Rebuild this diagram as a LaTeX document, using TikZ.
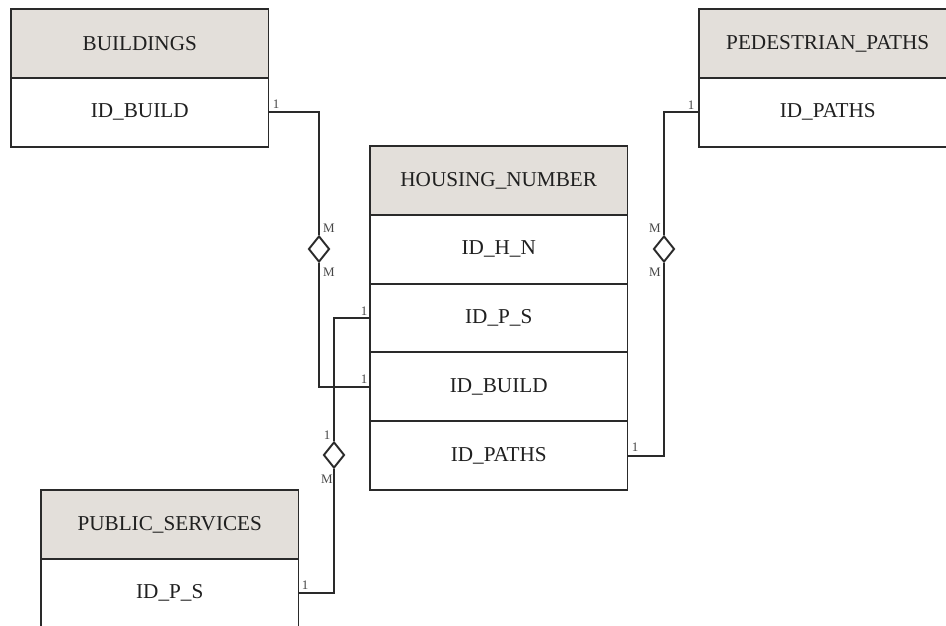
\documentclass[tikz,border=0pt]{standalone}
\usepackage{fontspec}
\setmainfont{Liberation Serif}
\usetikzlibrary{shapes.geometric}
\definecolor{hdrfill}{RGB}{227,223,218}
\definecolor{ink}{RGB}{42,42,42}
\definecolor{txt}{RGB}{32,32,32}
\definecolor{cardtxt}{RGB}{70,70,70}
\begin{document}
\begin{tikzpicture}[x=1pt,y=-1pt,
  cell/.style={draw=ink, line width=1.9pt, minimum width=257.5pt, minimum height=68.8pt,
    inner sep=0pt, text=txt, font=\fontsize{21.2}{24}\selectfont},
  hdr/.style={cell, fill=hdrfill},
  rowcell/.style={cell, fill=white},
  link/.style={draw=ink, line width=1.9pt},
  rel/.style={diamond, draw=ink, line width=1.9pt, fill=white,
    minimum width=21pt, minimum height=26pt, inner sep=0pt},
  card/.style={text=cardtxt, font=\fontsize{13}{14}\selectfont, inner sep=0pt}]
\useasboundingbox (0,0) rectangle (946,626);
\clip (0,0) rectangle (946,626);

% tables
\node[hdr]     (bh)  at (139.75,43.4)  {BUILDINGS};
\node[rowcell] (bid) at (139.75,112.2) {ID\_BUILD};

\node[hdr]     (ph)  at (827.75,43.4)  {PEDESTRIAN\_PATHS};
\node[rowcell] (pid) at (827.75,112.2) {ID\_PATHS};

\node[hdr]     (hh)     at (498.75,180.4) {HOUSING\_NUMBER};
\node[rowcell] (hhn)    at (498.75,249.2) {ID\_H\_N};
\node[rowcell] (hps)    at (498.75,318.0) {ID\_P\_S};
\node[rowcell] (hbuild) at (498.75,386.8) {ID\_BUILD};
\node[rowcell] (hpaths) at (498.75,455.6) {ID\_PATHS};

\node[hdr]     (sh)  at (169.75,524.4) {PUBLIC\_SERVICES};
\node[rowcell] (sid) at (169.75,593.2) {ID\_P\_S};

% relationship diamonds
\node[rel] (d1) at (319,249) {};
\node[rel] (d2) at (664,249) {};
\node[rel] (d3) at (334,455) {};

% connectors
\draw[link] (bid.east) -| (d1.north);
\draw[link] (d1.south) |- (hbuild.west);
\draw[link] (pid.west) -| (d2.north);
\draw[link] (d2.south) |- (hpaths.east);
\draw[link] (hps.west) -| (d3.north);
\draw[link] (d3.south) |- (sid.east);

% cardinalities
\node[card] (c1)  at (276,104) {1};
\node[card] (c2)  at (329,228) {M};
\node[card] (c3)  at (329,272) {M};
\node[card] (c4)  at (364,311) {1};
\node[card] (c5)  at (364,379) {1};
\node[card] (c6)  at (691,105) {1};
\node[card] (c7)  at (655,228) {M};
\node[card] (c8)  at (655,272) {M};
\node[card] (c9)  at (635,447) {1};
\node[card] (c10) at (327,435) {1};
\node[card] (c11) at (327,479) {M};
\node[card] (c12) at (305,585) {1};
\end{tikzpicture}
\end{document}
